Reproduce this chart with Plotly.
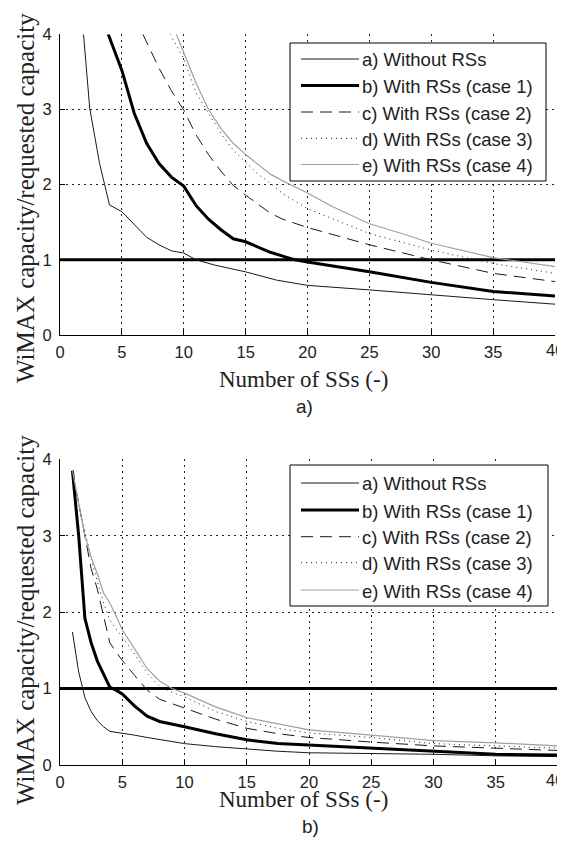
import plotly.graph_objects as go

SCREEN_W, SCREEN_H = 565, 847
OFF = 8  # the page body adds an 8px margin around the figure
FW, FH = SCREEN_W - OFF, SCREEN_H - 2 * OFF  # figure size that fits the window without overflow

# ---------------- data ----------------
labels = ["a) Without RSs", "b) With RSs (case 1)", "c) With RSs (case 2)",
          "d) With RSs (case 3)", "e) With RSs (case 4)"]
x_ticks = [0, 5, 10, 15, 20, 25, 30, 35, 40]
x_ticktext = ["0", "5", "10", "15", "20", "25", "30", "35", ""]  # "40" placed at edge below
y_ticks = [0, 1, 2, 3, 4]
threshold_x = [0, 40]
threshold_y = [1, 1]

# panel a)
a_x_a = [1.9, 2.4, 3.2, 4, 5, 6, 7, 8, 9, 10, 11, 12.5, 15, 17.5, 20, 25, 30, 35, 40]
a_y_a = [4.0, 3.02, 2.28, 1.73, 1.64, 1.47, 1.30, 1.20, 1.12, 1.09, 1.0, 0.93, 0.84, 0.73, 0.66, 0.60, 0.53, 0.47, 0.41]
a_x_b = [3.9, 5, 6, 7, 8, 9, 10, 11, 12, 13, 14, 15, 16, 17, 18, 19, 20, 25, 30, 35, 40]
a_y_b = [4.0, 3.52, 2.95, 2.55, 2.28, 2.10, 1.98, 1.72, 1.54, 1.40, 1.28, 1.24, 1.17, 1.10, 1.05, 1.0, 0.97, 0.84, 0.70, 0.58, 0.52]
a_x_c = [6.7, 8, 9, 10, 11, 12, 13, 14, 15, 16, 17, 18, 20, 25, 30, 35, 40]
a_y_c = [4.0, 3.55, 3.25, 2.99, 2.66, 2.40, 2.18, 1.99, 1.86, 1.74, 1.62, 1.54, 1.43, 1.20, 1.00, 0.82, 0.71]
a_x_d = [8.9, 10, 11, 12, 13, 14, 15, 16, 17, 18, 20, 25, 30, 35, 40]
a_y_d = [4.0, 3.68, 3.22, 2.95, 2.68, 2.46, 2.30, 2.14, 2.02, 1.88, 1.68, 1.35, 1.13, 0.95, 0.82]
a_x_e = [9.4, 10, 11, 12, 13, 14, 15, 16, 17, 18, 20, 22, 25, 28, 30, 35, 40]
a_y_e = [4.0, 3.75, 3.35, 3.0, 2.75, 2.55, 2.40, 2.27, 2.14, 2.05, 1.89, 1.71, 1.48, 1.33, 1.22, 1.03, 0.91]

# panel b)
b_x = [1, 1.5, 2, 2.5, 3, 3.5, 4, 4.5, 5, 6, 7, 8, 9, 10, 12.5, 15, 17.5, 20, 25, 30, 35, 40]
b_y_a = [1.74, 1.22, 0.88, 0.70, 0.58, 0.50, 0.44, 0.43, 0.42, 0.39, 0.36, 0.33, 0.30, 0.28, 0.24, 0.21, 0.18, 0.16, 0.15, 0.14, 0.12, 0.11]
b_y_b = [3.85, 3.0, 1.92, 1.60, 1.36, 1.18, 1.02, 0.98, 0.93, 0.77, 0.64, 0.57, 0.53, 0.50, 0.41, 0.33, 0.28, 0.26, 0.22, 0.18, 0.14, 0.13]
b_y_c = [3.85, 3.4, 3.0, 2.57, 2.3, 1.95, 1.6, 1.48, 1.37, 1.17, 0.98, 0.86, 0.80, 0.75, 0.60, 0.48, 0.41, 0.36, 0.30, 0.25, 0.22, 0.19]
b_y_d = [3.85, 3.4, 3.07, 2.7, 2.4, 2.12, 1.9, 1.78, 1.68, 1.45, 1.20, 1.03, 0.95, 0.89, 0.70, 0.57, 0.48, 0.42, 0.36, 0.28, 0.25, 0.22]
b_y_e = [3.85, 3.4, 3.0, 2.72, 2.5, 2.25, 2.12, 1.95, 1.77, 1.52, 1.26, 1.10, 1.0, 0.94, 0.76, 0.62, 0.54, 0.46, 0.39, 0.32, 0.29, 0.25]

# ---------------- styles ----------------
INK = "#1a1a1a"
GRAY = "#a0a0a0"
styles = [
    dict(color=INK, width=1, dash="solid"),
    dict(color="#000000", width=3, dash="solid"),
    dict(color=INK, width=1, dash="12px,7px"),
    dict(color=INK, width=1, dash="1px,4px"),
    dict(color=GRAY, width=1.2, dash="solid"),
]


def px_x(p):
    """screen pixel (from left) -> paper fraction"""
    return (p - OFF) / FW


def px_y(p):
    """screen pixel (from top) -> paper fraction"""
    return 1 - (p - OFF) / FH


fig = go.Figure()

panels = [
    dict(xs=[a_x_a, a_x_b, a_x_c, a_x_d, a_x_e], ys=[a_y_a, a_y_b, a_y_c, a_y_d, a_y_e],
         xa="x", ya="y"),
    dict(xs=[b_x] * 5, ys=[b_y_a, b_y_b, b_y_c, b_y_d, b_y_e], xa="x2", ya="y2"),
]

for pnl in panels:
    fig.add_trace(go.Scatter(x=threshold_x, y=threshold_y, mode="lines",
                             line=dict(color="#000000", width=3), showlegend=False,
                             xaxis=pnl["xa"], yaxis=pnl["ya"], hoverinfo="skip"))
    for i in range(5):
        fig.add_trace(go.Scatter(x=pnl["xs"][i], y=pnl["ys"][i], mode="lines",
                                 line=styles[i], name=labels[i], showlegend=False,
                                 xaxis=pnl["xa"], yaxis=pnl["ya"]))

tick_font = dict(family="Liberation Sans, Arial, sans-serif", size=16.5, color="#222222")
axis_common = dict(
    showline=True, linecolor="#000000", linewidth=1, mirror=False,
    ticks="inside", ticklen=5, tickwidth=1, tickcolor="#000000",
    showgrid=True, gridcolor="#222222", gridwidth=1, griddash="2px,4px",
    zeroline=False, tickfont=tick_font, fixedrange=True, automargin=False,
    ticklabeloverflow="allow",
)

# plot-area geometry (screen pixels)
top = dict(x0=60, x1=555, y0=34.3, y1=335)
bot = dict(x0=60, x1=558, y0=459.3, y1=765)

fig.update_layout(
    template="none",
    width=FW, height=FH, margin=dict(l=0, r=0, t=0, b=0, pad=0),
    paper_bgcolor="white", plot_bgcolor="white", showlegend=False,
    xaxis=dict(axis_common, domain=[px_x(top["x0"]), px_x(top["x1"])], range=[0, 40],
               tickvals=x_ticks, ticktext=x_ticktext, anchor="y", ticklabelstandoff=2),
    yaxis=dict(axis_common, domain=[px_y(top["y1"]), px_y(top["y0"])], range=[0, 4],
               tickvals=y_ticks, anchor="x", ticklabelstandoff=4),
    xaxis2=dict(axis_common, domain=[px_x(bot["x0"]), px_x(bot["x1"])], range=[0, 40],
                tickvals=x_ticks, ticktext=x_ticktext, anchor="y2", ticklabelstandoff=2),
    yaxis2=dict(axis_common, domain=[px_y(bot["y1"]), px_y(bot["y0"])], range=[0, 4],
                tickvals=y_ticks, anchor="x2", ticklabelstandoff=4),
)

serif_x = dict(family="Liberation Serif, Times New Roman, serif", size=23, color="#222222")
serif_y = dict(family="Liberation Serif, Times New Roman, serif", size=25, color="#222222")
sans_cap = dict(family="Liberation Sans, Arial, sans-serif", size=19, color="#222222")
leg_font = dict(family="Liberation Sans, Arial, sans-serif", size=18.5, color="#222222")

shapes = []
annotations = []

# last x tick label, kept inside the visible page edge
for yc in [350, 780]:
    annotations.append(dict(text=str(x_ticks[-1]), x=1.0, y=px_y(yc), xref="paper",
                            yref="paper", showarrow=False, font=tick_font,
                            xanchor="right", yanchor="middle", borderpad=0))

# axis titles and captions
for (xc, yc) in [(303, 379), (303, 799)]:
    annotations.append(dict(text="Number of SSs (-)", x=px_x(xc), y=px_y(yc), xref="paper",
                            yref="paper", showarrow=False, font=serif_x,
                            xanchor="center", yanchor="middle", borderpad=0))
for (xc, yc) in [(25, 198), (25, 620)]:
    annotations.append(dict(text="WiMAX capacity/requested capacity", x=px_x(xc), y=px_y(yc),
                            xref="paper", yref="paper", showarrow=False, font=serif_y,
                            textangle=-90, xanchor="center", yanchor="middle"))
annotations.append(dict(text="a)", x=px_x(304), y=px_y(406), xref="paper", yref="paper",
                        showarrow=False, font=sans_cap, xanchor="center", yanchor="middle",
                        borderpad=0))
annotations.append(dict(text="b)", x=px_x(310), y=px_y(826), xref="paper", yref="paper",
                        showarrow=False, font=sans_cap, xanchor="center", yanchor="middle",
                        borderpad=0))

# legends (drawn manually to match MATLAB-style long line samples)
legend_boxes = [
    dict(x0=290, x1=546, y0=43, y1=181, rows=[59, 85.5, 112, 138.3, 164.5]),
    dict(x0=290, x1=548, y0=465, y1=606, rows=[483, 510, 536.7, 562.7, 590]),
]
for lb in legend_boxes:
    shapes.append(dict(type="rect", xref="paper", yref="paper",
                       x0=px_x(lb["x0"]), x1=px_x(lb["x1"]),
                       y0=px_y(lb["y1"]), y1=px_y(lb["y0"]),
                       line=dict(color="#000000", width=1), fillcolor="white", layer="above"))
    for i, ry in enumerate(lb["rows"]):
        shapes.append(dict(type="line", xref="paper", yref="paper",
                           x0=px_x(301), x1=px_x(359), y0=px_y(ry), y1=px_y(ry),
                           line=styles[i], layer="above"))
        annotations.append(dict(text=labels[i], x=px_x(360), y=px_y(ry + 1), xref="paper",
                                yref="paper", showarrow=False, font=leg_font,
                                xanchor="left", yanchor="middle"))

fig.update_layout(shapes=shapes, annotations=annotations)

fig.write_html("out.html")
